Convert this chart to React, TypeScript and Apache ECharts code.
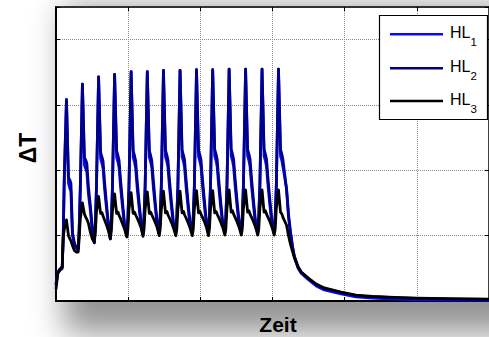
import React, { useEffect, useRef } from "react";
import * as echarts from "echarts";

// Zeit (x axis units 0..60, 6 grid intervals)
const time = [
  0, 0.25, 0.55,
  0.86, 1.0, 1.15, 1.45, 1.73, 1.93, 2.07, 2.28, 2.56, 2.83,
  3.07, 3.21, 3.36, 3.66, 3.94, 4.14, 4.28, 4.49, 4.77, 5.04,
  5.31, 5.45, 5.6, 5.9, 6.18, 6.38, 6.52, 6.73, 7.01, 7.28,
  7.53, 7.67, 7.82, 8.12, 8.4, 8.6, 8.74, 8.95, 9.23, 9.5,
  9.82, 9.96, 10.11, 10.41, 10.69, 10.89, 11.03, 11.24, 11.52, 11.79,
  12.06, 12.2, 12.35, 12.65, 12.93, 13.13, 13.27, 13.48, 13.76, 14.03,
  14.3, 14.44, 14.59, 14.89, 15.17, 15.37, 15.51, 15.72, 16.0, 16.27,
  16.6, 16.74, 16.89, 17.19, 17.47, 17.67, 17.81, 18.02, 18.3, 18.57,
  18.88, 19.02, 19.17, 19.47, 19.75, 19.95, 20.09, 20.3, 20.58, 20.85,
  21.12, 21.26, 21.41, 21.71, 21.99, 22.19, 22.33, 22.54, 22.82, 23.09,
  23.4, 23.54, 23.69, 23.99, 24.27, 24.47, 24.61, 24.82, 25.1, 25.37,
  25.68, 25.82, 25.97, 26.27, 26.55, 26.75, 26.89, 27.1, 27.38, 27.65,
  27.96, 28.1, 28.25, 28.55, 28.83, 29.03, 29.17, 29.38, 29.66, 29.93,
  30.24, 30.38, 30.53, 30.83, 31.11, 31.31, 31.45,
  31.95, 32.22, 32.49, 32.77, 33.04, 33.55, 34.0, 34.94, 36.06, 37.18, 39.5, 41.57, 43.83, 46.87, 49.87, 54.47, 60,
];

const hl1 = [
  0.25, 0.44, 0.49,
  0.52, 0.98, 1.88, 3.08, 1.8, 1.72, 1.68, 1.0, 0.86, 0.8,
  0.79, 1.08, 1.68, 3.32, 2.08, 2.02, 1.97, 1.64, 1.38, 1.06,
  0.89, 1.18, 1.7, 3.43, 2.18, 2.1, 2.03, 1.72, 1.4, 1.12,
  0.95, 1.23, 1.72, 3.47, 2.2, 2.12, 2.04, 1.74, 1.42, 1.14,
  0.99, 1.26, 1.73, 3.51, 2.2, 2.12, 2.04, 1.74, 1.42, 1.15,
  1.02, 1.28, 1.73, 3.51, 2.2, 2.12, 2.05, 1.75, 1.43, 1.15,
  1.03, 1.28, 1.74, 3.53, 2.21, 2.13, 2.05, 1.75, 1.43, 1.16,
  1.04, 1.29, 1.74, 3.53, 2.21, 2.13, 2.05, 1.75, 1.43, 1.16,
  1.04, 1.29, 1.74, 3.54, 2.21, 2.13, 2.06, 1.76, 1.44, 1.16,
  1.04, 1.3, 1.75, 3.54, 2.22, 2.14, 2.06, 1.76, 1.44, 1.17,
  1.05, 1.3, 1.75, 3.55, 2.22, 2.14, 2.06, 1.76, 1.44, 1.17,
  1.05, 1.3, 1.75, 3.55, 2.22, 2.14, 2.06, 1.76, 1.44, 1.17,
  1.05, 1.3, 1.75, 3.55, 2.22, 2.14, 2.06, 1.76, 1.44, 1.17,
  1.05, 1.3, 1.75, 3.55, 2.22, 2.14, 2.05,
  1.72, 1.33, 1.06, 0.84, 0.67, 0.5, 0.42, 0.33, 0.23, 0.17, 0.11, 0.065, 0.045, 0.03, 0.02, 0.015, 0.012,
];

const hl2 = [
  0.25, 0.44, 0.49,
  0.52, 0.98, 1.9, 3.08, 1.89, 1.85, 1.8, 1.05, 0.88, 0.82,
  0.8, 1.1, 1.7, 3.32, 2.2, 2.15, 2.1, 1.75, 1.45, 1.1,
  0.9, 1.2, 1.72, 3.43, 2.28, 2.2, 2.14, 1.82, 1.47, 1.16,
  0.96, 1.25, 1.74, 3.47, 2.3, 2.22, 2.15, 1.85, 1.5, 1.18,
  1.0, 1.28, 1.75, 3.51, 2.3, 2.22, 2.15, 1.85, 1.5, 1.2,
  1.03, 1.3, 1.75, 3.51, 2.3, 2.22, 2.15, 1.86, 1.5, 1.2,
  1.04, 1.3, 1.76, 3.53, 2.31, 2.23, 2.16, 1.86, 1.51, 1.21,
  1.05, 1.3, 1.76, 3.53, 2.31, 2.23, 2.16, 1.86, 1.51, 1.21,
  1.05, 1.31, 1.76, 3.54, 2.31, 2.23, 2.16, 1.86, 1.52, 1.21,
  1.05, 1.31, 1.77, 3.54, 2.32, 2.24, 2.17, 1.87, 1.52, 1.22,
  1.06, 1.31, 1.77, 3.55, 2.32, 2.24, 2.17, 1.87, 1.52, 1.22,
  1.06, 1.32, 1.77, 3.55, 2.32, 2.24, 2.17, 1.87, 1.52, 1.22,
  1.06, 1.32, 1.77, 3.55, 2.32, 2.24, 2.17, 1.87, 1.52, 1.22,
  1.06, 1.32, 1.77, 3.55, 2.32, 2.24, 2.16,
  1.7, 1.29, 1.04, 0.83, 0.68, 0.52, 0.44, 0.35, 0.25, 0.19, 0.13, 0.08, 0.066, 0.05, 0.04, 0.03, 0.025,
];

const hl3 = [
  0.18, 0.42, 0.47,
  0.5, 0.98, 1.1, 1.24, 1.0, 0.95, 0.92, 0.85, 0.77, 0.75,
  0.75, 0.95, 1.25, 1.5, 1.33, 1.28, 1.25, 1.19, 1.05, 0.95,
  0.9, 1.05, 1.35, 1.6, 1.34, 1.35, 1.3, 1.24, 1.16, 1.07,
  0.95, 1.08, 1.38, 1.64, 1.34, 1.36, 1.31, 1.26, 1.18, 1.1,
  0.98, 1.1, 1.4, 1.66, 1.34, 1.36, 1.32, 1.27, 1.2, 1.12,
  0.99, 1.1, 1.4, 1.67, 1.34, 1.36, 1.32, 1.27, 1.2, 1.12,
  1.0, 1.1, 1.4, 1.68, 1.35, 1.37, 1.32, 1.27, 1.2, 1.12,
  1.0, 1.1, 1.4, 1.68, 1.35, 1.37, 1.32, 1.27, 1.2, 1.12,
  1.0, 1.1, 1.41, 1.69, 1.35, 1.37, 1.33, 1.28, 1.21, 1.13,
  1.0, 1.1, 1.41, 1.69, 1.35, 1.37, 1.33, 1.28, 1.21, 1.13,
  1.01, 1.11, 1.42, 1.7, 1.36, 1.38, 1.33, 1.28, 1.21, 1.13,
  1.01, 1.11, 1.42, 1.7, 1.36, 1.38, 1.33, 1.28, 1.21, 1.13,
  1.01, 1.11, 1.42, 1.7, 1.36, 1.38, 1.33, 1.28, 1.21, 1.13,
  1.01, 1.11, 1.42, 1.7, 1.36, 1.33, 1.28,
  1.16, 1.0, 0.87, 0.76, 0.66, 0.52, 0.44, 0.35, 0.26, 0.2, 0.135, 0.09, 0.07, 0.055, 0.045, 0.035, 0.03,
];

const seriesNames = ["HL", "HL", "HL"];
const seriesSubs = ["1", "2", "3"];
const seriesColors = ["#0a0aff", "#00008c", "#000000"];
const seriesValues = [hl1, hl2, hl3];

const xTitle = "Zeit";
const yTitle = "ΔT";

const FONT = "'Liberation Sans', Arial, Helvetica, sans-serif";

export default function App() {
  const ref = useRef<HTMLDivElement>(null);

  useEffect(() => {
    if (!ref.current) return;
    const chart = echarts.init(ref.current, null, { renderer: "svg" });

    const axisCommon = {
      type: "value" as const,
      axisLabel: { show: false },
      axisTick: { show: true, inside: true, length: 4, lineStyle: { color: "#000", width: 1 } },
    };

    const legendY = [34.3, 68.3, 101];
    const legendGraphics: any[] = [
      {
        type: "rect",
        shape: { x: 379.5, y: 15.5, width: 108, height: 104 },
        style: { fill: "#fff", stroke: "#000", lineWidth: 1.2 },
        z: 100,
      },
    ];
    legendY.forEach((y, i) => {
      legendGraphics.push({
        type: "line",
        shape: { x1: 390, y1: y, x2: 443, y2: y },
        style: { stroke: seriesColors[i], lineWidth: 2.5 },
        z: 101,
      });
      legendGraphics.push({
        type: "text",
        x: 450,
        y: y - 1.8,
        style: {
          text: seriesNames[i],
          font: `16px ${FONT}`,
          fill: "#000",
          align: "left",
          verticalAlign: "middle",
        },
        z: 101,
      });
      legendGraphics.push({
        type: "text",
        x: 470.5,
        y: y + 8,
        style: {
          text: seriesSubs[i],
          font: `11.5px ${FONT}`,
          fill: "#000",
          align: "left",
          verticalAlign: "middle",
        },
        z: 101,
      });
    });

    const option: any = {
      animation: false,
      backgroundColor: "transparent",
      grid: {
        left: 56,
        top: 7,
        width: 434,
        height: 294,
        show: true,
        backgroundColor: "#fff",
        borderWidth: 0,
      },
      xAxis: [
        {
          ...axisCommon,
          min: 0,
          max: 60,
          interval: 10,
          position: "bottom",
          axisLine: { show: true, onZero: false, lineStyle: { color: "#000", width: 2 } },
          splitLine: { show: true, lineStyle: { color: "#8a8a8a", width: 1, type: [1, 1] } },
        },
        {
          ...axisCommon,
          min: 0,
          max: 60,
          interval: 10,
          position: "top",
          axisLine: { show: true, onZero: false, lineStyle: { color: "#000", width: 1.5 } },
          splitLine: { show: false },
        },
      ],
      yAxis: [
        {
          ...axisCommon,
          min: 0,
          max: 4.5,
          interval: 1,
          position: "left",
          axisLine: { show: true, onZero: false, lineStyle: { color: "#000", width: 2 } },
          splitLine: { show: true, lineStyle: { color: "#8a8a8a", width: 1, type: [1, 1] } },
        },
        {
          ...axisCommon,
          min: 0,
          max: 4.5,
          interval: 1,
          position: "right",
          axisLine: { show: true, onZero: false, lineStyle: { color: "#000", width: 1.5 } },
          splitLine: { show: false },
        },
      ],
      series: seriesValues.map((vals, i) => ({
        type: "line",
        name: seriesNames[i] + seriesSubs[i],
        xAxisIndex: 0,
        yAxisIndex: 0,
        data: time.map((t, j) => [t, vals[j]]),
        showSymbol: false,
        symbol: "none",
        lineStyle: { color: seriesColors[i], width: 2.8, join: "round" },
        itemStyle: { color: seriesColors[i] },
        z: 2 + i,
      })),
      graphic: [
        {
          type: "text",
          x: 28,
          y: 148,
          rotation: Math.PI / 2,
          style: {
            text: yTitle,
            font: `bold 23px ${FONT}`,
            fill: "#000",
            align: "center",
            verticalAlign: "middle",
          },
        },
        {
          type: "text",
          x: 278,
          y: 324.5,
          style: {
            text: xTitle,
            font: `bold 21px ${FONT}`,
            fill: "#000",
            align: "center",
            verticalAlign: "middle",
          },
        },
        ...legendGraphics,
      ],
    };

    chart.setOption(option);
    return () => chart.dispose();
  }, []);

  return (
    <div
      style={{
        position: "fixed",
        left: 0,
        top: 0,
        width: 489,
        height: 337,
        overflow: "hidden",
        background: "#fff",
      }}
    >
      <div
        style={{
          position: "absolute",
          left: 56,
          top: 7,
          width: 434,
          height: 294,
          background: "#fff",
          boxShadow: "24px 16px 30px 16px rgba(0,0,0,0.42)",
        }}
      />
      <div
        ref={ref}
        style={{ position: "absolute", left: 0, top: 0, width: 489, height: 337 }}
      />
    </div>
  );
}
